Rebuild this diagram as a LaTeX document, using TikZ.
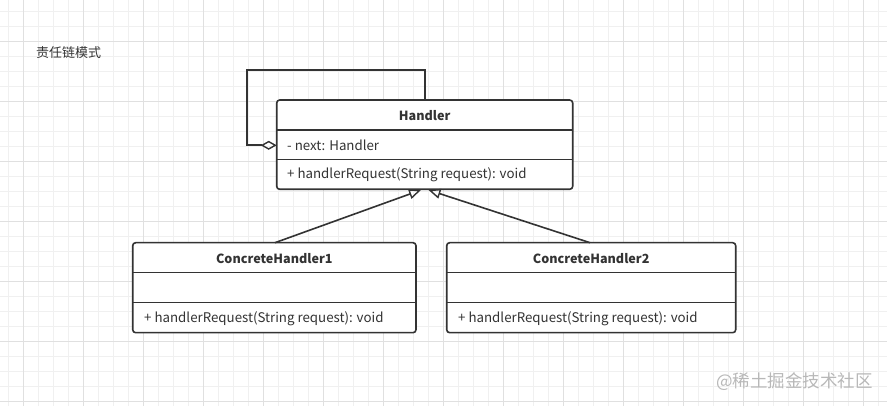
\documentclass[tikz,border=0pt]{standalone}
\usepackage{fontspec}
\setmainfont{Noto Sans CJK SC}
\usetikzlibrary{arrows.meta}
\definecolor{gridminor}{HTML}{F0F0F0}
\definecolor{gridmajor}{HTML}{E0E0E0}
\definecolor{ink}{HTML}{333333}
\definecolor{wm}{HTML}{B8B8B8}
\begin{document}
\begin{tikzpicture}[x=1pt,y=-1pt,
  umlbox/.style={draw=ink,line width=1.6pt,fill=white,rounded corners=3pt,inner sep=0pt},
  divider/.style={draw=ink,line width=1.6pt},
  conn/.style={draw=ink,line width=1.6pt},
  txt/.style={text=ink,inner sep=0pt,font=\fontsize{13.3}{16}\selectfont},
  ttl/.style={txt,font=\fontsize{12.6}{15}\selectfont\bfseries},
  minor/.style={draw=gridminor,line width=0.8pt},
  major/.style={draw=gridmajor,line width=0.8pt}]
\useasboundingbox (0,0) rectangle (887,406);
\fill[white] (0,0) rectangle (887,406);
% grid
\foreach \i in {0,...,58} {\draw[minor] (8.3+15*\i,0) -- ++(0,406);}
\foreach \i in {0,...,26} {\draw[minor] (0,11.7+15*\i) -- ++(887,0);}
\foreach \i in {1,5,...,57} {\draw[major] (8.3+15*\i,0) -- ++(0,406);}
\foreach \i in {2,6,...,26} {\draw[major] (0,11.7+15*\i) -- ++(887,0);}
% title
\node[txt,anchor=west,font=\fontsize{13}{16}\selectfont] (title) at (36,53) {责任链模式};
% Handler
\node[umlbox,minimum width=296pt,minimum height=89.3pt] (h) at (424.7,144.65) {};
\node[ttl] (hname) at (424.7,115.5) {Handler};
\draw[divider] (276.7,130.3) -- (572.7,130.3);
\draw[divider] (276.7,159.7) -- (572.7,159.7);
\node[txt,anchor=west] (hattr) at (287,145.5) {- next: Handler};
\node[txt,anchor=west] (hop) at (287,175) {+ handlerRequest(String request): void};
% ConcreteHandler1
\node[umlbox,minimum width=283.3pt,minimum height=90pt] (c1) at (274.35,287.7) {};
\node[ttl] (c1name) at (274.35,258.5) {ConcreteHandler1};
\draw[divider] (132.7,272.7) -- (416,272.7);
\draw[divider] (132.7,302.7) -- (416,302.7);
\node[txt,anchor=west] (c1op) at (144,318.5) {+ handlerRequest(String request): void};
% ConcreteHandler2
\node[umlbox,minimum width=289pt,minimum height=90pt] (c2) at (591.2,287.7) {};
\node[ttl] (c2name) at (591.2,258.5) {ConcreteHandler2};
\draw[divider] (446.7,272.7) -- (735.7,272.7);
\draw[divider] (446.7,302.7) -- (735.7,302.7);
\node[txt,anchor=west] (c2op) at (458,318.5) {+ handlerRequest(String request): void};
% connection points
\coordinate (g1) at (421,190);
\coordinate (g2) at (428.5,190);
\coordinate (d1) at (276.7,145.3);
\coordinate (c1top) at (275,242.7);
\coordinate (c2top) at (590,242.7);
% generalizations
\draw[conn,-{Triangle[open,length=12pt,width=10pt,line width=1.4pt]}] (c1top) -- (g1);
\draw[conn,-{Triangle[open,length=12pt,width=10pt,line width=1.4pt]}] (c2top) -- (g2);
% self aggregation
\draw[conn,{Diamond[open,length=16pt,width=9pt,line width=1.4pt]}-] (d1) -- (246.7,145.3) -- (246.7,70) -- (424.7,70) -- (h.north);
% watermark
\node[inner sep=0pt,text=wm,font=\fontsize{17.5}{20}\selectfont,anchor=east] (wmk) at (873,382) {@稀土掘金技术社区};
\end{tikzpicture}
\end{document}
